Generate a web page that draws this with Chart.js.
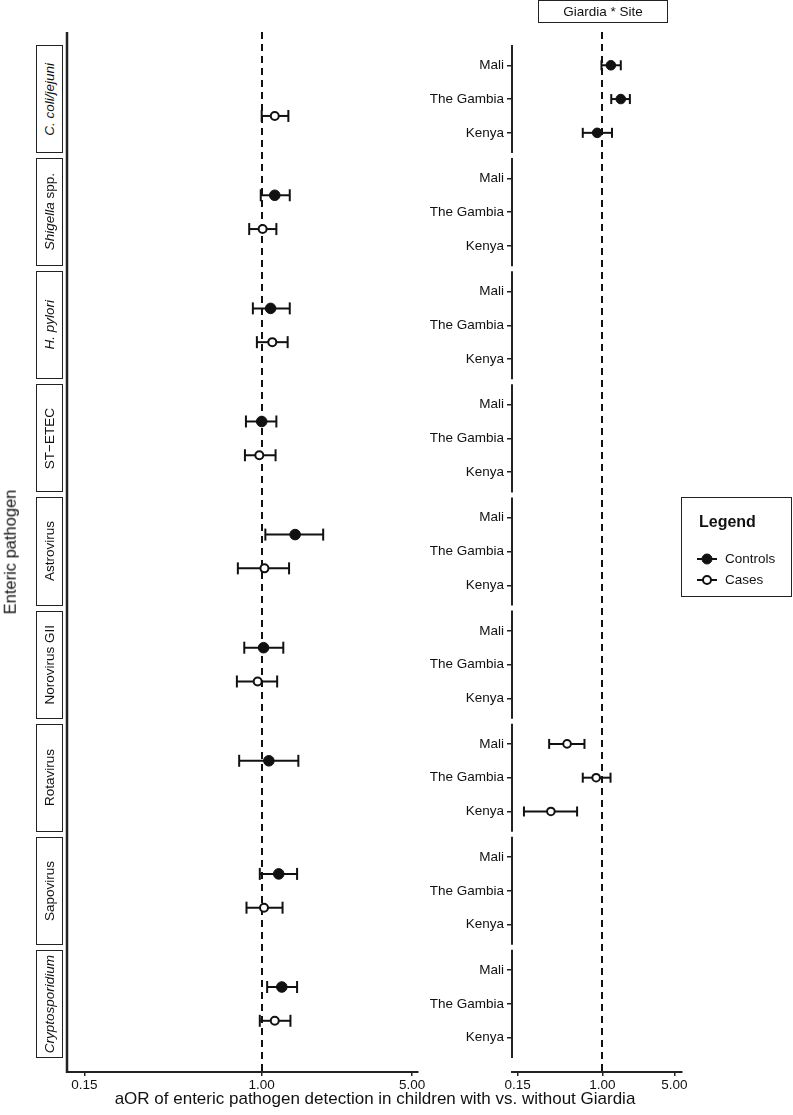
<!DOCTYPE html>
<html>
<head>
<meta charset="utf-8">
<script src="https://cdn.jsdelivr.net/npm/chart.js@4.4.1/dist/chart.umd.min.js"></script>
<style>
html,body{margin:0;padding:0;background:#fff;}
#wrap{position:relative;width:793px;height:1115px;overflow:hidden;font-family:"Liberation Sans",Arial,sans-serif;color:#111;}
#wrap canvas{position:absolute;top:0;}
.strip{position:absolute;box-sizing:border-box;border:1.5px solid #222;background:#fff;display:flex;align-items:center;justify-content:center;}
.strip span{writing-mode:vertical-rl;transform:rotate(180deg);font-size:13.5px;white-space:nowrap;line-height:1;}
.abs{position:absolute;white-space:nowrap;line-height:1;}
</style>
</head>
<body>
<div id="wrap">
  <canvas id="leftChart" width="440" height="1115" style="left:0px"></canvas>
  <canvas id="rightChart" width="383" height="1115" style="left:410px"></canvas>
</div>
<script>
// ---------- DATA ----------
const pathogens = ["C. coli/jejuni", "Shigella spp.", "H. pylori", "ST-ETEC", "Astrovirus", "Norovirus GII", "Rotavirus", "Sapovirus", "Cryptosporidium"];
const pathogenLabelHtml = ["<i>C. coli/jejuni</i>", "<i>Shigella</i> spp.", "<i>H. pylori</i>", "ST\u2212ETEC", "Astrovirus", "Norovirus GII", "Rotavirus", "Sapovirus", "<i>Cryptosporidium</i>"];

const controlsEst  = [null, 1.15, 1.10, 1.00, 1.43, 1.02, 1.08, 1.20, 1.24];
const controlsLow  = [null, 0.99, 0.91, 0.845, 1.04, 0.83, 0.786, 0.98, 1.06];
const controlsHigh = [null, 1.35, 1.35, 1.17, 1.93, 1.26, 1.48, 1.46, 1.46];

const casesEst  = [1.15, 1.01, 1.12, 0.975, 1.03, 0.958, null, 1.025, 1.15];
const casesLow  = [1.00, 0.875, 0.95, 0.836, 0.775, 0.767, null, 0.85, 0.98];
const casesHigh = [1.33, 1.17, 1.32, 1.16, 1.34, 1.18, null, 1.25, 1.36];

const sites = ["Mali", "The Gambia", "Kenya"];
// Giardia * Site interaction: C. coli/jejuni (controls)
const ccoliControlsSiteEst  = [1.21, 1.51, 0.89];
const ccoliControlsSiteLow  = [0.98, 1.22, 0.645];
const ccoliControlsSiteHigh = [1.51, 1.85, 1.24];
// Giardia * Site interaction: Rotavirus (cases)
const rotaCasesSiteEst  = [0.454, 0.87, 0.316];
const rotaCasesSiteLow  = [0.304, 0.645, 0.173];
const rotaCasesSiteHigh = [0.67, 1.20, 0.568];

const xTickValues = [0.15, 1, 5];

// ---------- LAYOUT HELPERS ----------
const FACET_H = 3.2, PITCH = 3.348;
const Y_MIN = -0.385, Y_MAX = 30.4;
const leftRowY = (f, g) => f * PITCH + 1.1 + g;   // g: 0 controls, 1 cases
const rightRowY = (f, s) => f * PITCH + 0.6 + s;  // s: site index
const INK = '#111';

function errorBar(lo, hi, y, capR) {
  return {
    type: 'scatter', showLine: true, order: 2,
    data: [{x: lo, y: y}, {x: hi, y: y}],
    borderColor: INK, borderWidth: 2,
    pointStyle: 'line', pointRotation: 90, pointRadius: capR,
    pointBorderWidth: 2, pointBorderColor: INK, pointBackgroundColor: INK,
    pointHoverRadius: capR
  };
}
function pointSet(pts, filled, r) {
  return {
    type: 'scatter', order: 0, data: pts,
    pointStyle: 'circle', pointRadius: r, pointHoverRadius: r,
    backgroundColor: filled ? INK : '#fff', borderColor: INK,
    borderWidth: filled ? 1 : 2
  };
}

const refLine = {
  id: 'refLine',
  beforeDatasetsDraw(chart) {
    const {ctx, chartArea: a, scales: {x}} = chart;
    const px = Math.round(x.getPixelForValue(1));
    ctx.save();
    ctx.strokeStyle = INK; ctx.lineWidth = 2; ctx.setLineDash([7, 5]);
    ctx.beginPath(); ctx.moveTo(px, a.top); ctx.lineTo(px, a.bottom); ctx.stroke();
    ctx.restore();
  }
};
const leftAxisLine = {
  id: 'leftAxisLine',
  afterDraw(chart) {
    const {ctx, chartArea: a} = chart;
    ctx.save(); ctx.strokeStyle = '#222'; ctx.lineWidth = 2.5;
    ctx.beginPath(); ctx.moveTo(a.left, a.top); ctx.lineTo(a.left, a.bottom + 1); ctx.stroke();
    ctx.restore();
  }
};
const facetAxisLines = {
  id: 'facetAxisLines',
  afterDraw(chart) {
    const {ctx, chartArea: a, scales: {y}} = chart;
    ctx.save(); ctx.strokeStyle = '#222'; ctx.lineWidth = 2;
    for (let f = 0; f < pathogens.length; f++) {
      const t = y.getPixelForValue(f * PITCH), b = y.getPixelForValue(f * PITCH + FACET_H);
      ctx.beginPath(); ctx.moveTo(a.left, t); ctx.lineTo(a.left, b); ctx.stroke();
    }
    ctx.restore();
  }
};

function xScale(min, max) {
  return {
    type: 'logarithmic', min: min, max: max,
    afterBuildTicks: s => { s.ticks = xTickValues.map(v => ({value: v})); },
    afterFit: s => { s.height = 43; },
    ticks: {
      callback: v => Number(v).toFixed(2), color: INK, padding: 1, autoSkip: false, maxRotation: 0,
      font: {family: '"Liberation Sans", Arial, sans-serif', size: 13.5}
    },
    grid: {display: true, drawOnChartArea: false, drawTicks: true, tickLength: 4, color: '#222', lineWidth: 1.5},
    border: {display: true, color: '#222', width: 2}
  };
}

// ---------- LEFT CHART ----------
const leftDatasets = [];
const ctrlPts = [], casePts = [];
pathogens.forEach((p, f) => {
  if (controlsEst[f] !== null) {
    leftDatasets.push(errorBar(controlsLow[f], controlsHigh[f], leftRowY(f, 0), 6));
    ctrlPts.push({x: controlsEst[f], y: leftRowY(f, 0)});
  }
  if (casesEst[f] !== null) {
    leftDatasets.push(errorBar(casesLow[f], casesHigh[f], leftRowY(f, 1), 6));
    casePts.push({x: casesEst[f], y: leftRowY(f, 1)});
  }
});
leftDatasets.push(pointSet(ctrlPts, true, 5.3));
leftDatasets.push(pointSet(casePts, false, 4));

const commonOpts = {
  responsive: false, animation: false, devicePixelRatio: 1,
  plugins: {legend: {display: false}, tooltip: {enabled: false}},
  events: []
};

const leftChart = new Chart(document.getElementById('leftChart'), {
  type: 'scatter',
  data: {datasets: leftDatasets},
  options: Object.assign({}, commonOpts, {
    layout: {padding: {left: 67, right: 22, top: 32, bottom: 0}},
    scales: {
      x: xScale(0.1247, 5.32),
      y: {type: 'linear', reverse: true, min: Y_MIN, max: Y_MAX, display: false}
    }
  }),
  plugins: [refLine, leftAxisLine]
});

// ---------- RIGHT CHART ----------
const rightDatasets = [];
const ccPts = [], rotaPts = [];
sites.forEach((s, k) => {
  rightDatasets.push(errorBar(ccoliControlsSiteLow[k], ccoliControlsSiteHigh[k], rightRowY(0, k), 5));
  ccPts.push({x: ccoliControlsSiteEst[k], y: rightRowY(0, k)});
  rightDatasets.push(errorBar(rotaCasesSiteLow[k], rotaCasesSiteHigh[k], rightRowY(6, k), 5));
  rotaPts.push({x: rotaCasesSiteEst[k], y: rightRowY(6, k)});
});
rightDatasets.push(pointSet(ccPts, true, 4.8));
rightDatasets.push(pointSet(rotaPts, false, 3.8));

const rightTickVals = [];
pathogens.forEach((p, f) => sites.forEach((s, k) => rightTickVals.push(rightRowY(f, k))));

const rightChart = new Chart(document.getElementById('rightChart'), {
  type: 'scatter',
  data: {datasets: rightDatasets},
  options: Object.assign({}, commonOpts, {
    layout: {padding: {left: 0, right: 111, top: 32, bottom: 0}},
    scales: {
      x: xScale(0.1324, 5.94),
      y: {
        type: 'linear', reverse: true, min: Y_MIN, max: Y_MAX,
        afterBuildTicks: s => { s.ticks = rightTickVals.map(v => ({value: v})); },
        afterFit: s => { s.width = 102; },
        ticks: {
          autoSkip: false, padding: 3, color: INK,
          callback: (v, i) => sites[i % sites.length],
          font: {family: '"Liberation Sans", Arial, sans-serif', size: 13.5}
        },
        grid: {display: true, drawOnChartArea: false, drawTicks: true, tickLength: 5, color: '#222', lineWidth: 1.5},
        border: {display: false}
      }
    }
  }),
  plugins: [refLine, facetAxisLines]
});

// ---------- HTML TEXT / STRIPS / LEGEND ----------
const wrap = document.getElementById('wrap');
const ly = leftChart.scales.y;
pathogens.forEach((p, f) => {
  const top = ly.getPixelForValue(f * PITCH), bot = ly.getPixelForValue(f * PITCH + FACET_H);
  const d = document.createElement('div');
  d.className = 'strip';
  d.style.left = '36px'; d.style.width = '27px';
  d.style.top = top + 'px'; d.style.height = (bot - top) + 'px';
  d.innerHTML = '<span>' + pathogenLabelHtml[f] + '</span>';
  wrap.appendChild(d);
});

function addText(html, css) {
  const d = document.createElement('div');
  d.className = 'abs';
  d.innerHTML = html;
  Object.assign(d.style, css);
  wrap.appendChild(d);
  return d;
}
// y title
addText('Enteric pathogen', {left: '10px', top: '552px', fontSize: '16.5px', transform: 'translate(-50%,-50%) rotate(-90deg)'});
// x title
addText('aOR of enteric pathogen detection in children with vs. without Giardia', {left: '375px', top: '1098px', fontSize: '17px', transform: 'translate(-50%,-50%)'});
// header box
addText('Giardia * Site', {left: '538px', top: '0px', width: '130px', height: '23px', boxSizing: 'border-box', border: '1.5px solid #222', fontSize: '13.5px', display: 'flex', alignItems: 'center', justifyContent: 'center'});
// legend
addText('', {left: '681px', top: '497px', width: '111px', height: '100px', boxSizing: 'border-box', border: '1.5px solid #222'});
addText('<b>Legend</b>', {left: '699px', top: '522px', fontSize: '16px', transform: 'translateY(-50%)'});
const sym = (filled) => '<svg width="24" height="14" viewBox="0 0 24 14"><line x1="1" y1="7" x2="21" y2="7" stroke="#111" stroke-width="2"/><circle cx="11" cy="7" r="' + (filled ? 5 : 4) + '" fill="' + (filled ? '#111' : '#fff') + '" stroke="#111" stroke-width="' + (filled ? 1 : 2) + '"/></svg>';
addText(sym(true), {left: '696px', top: '552px'});
addText(sym(false), {left: '696px', top: '573px'});
addText('Controls', {left: '725px', top: '559px', fontSize: '13.5px', transform: 'translateY(-50%)'});
addText('Cases', {left: '725px', top: '580px', fontSize: '13.5px', transform: 'translateY(-50%)'});
</script>
</body>
</html>
